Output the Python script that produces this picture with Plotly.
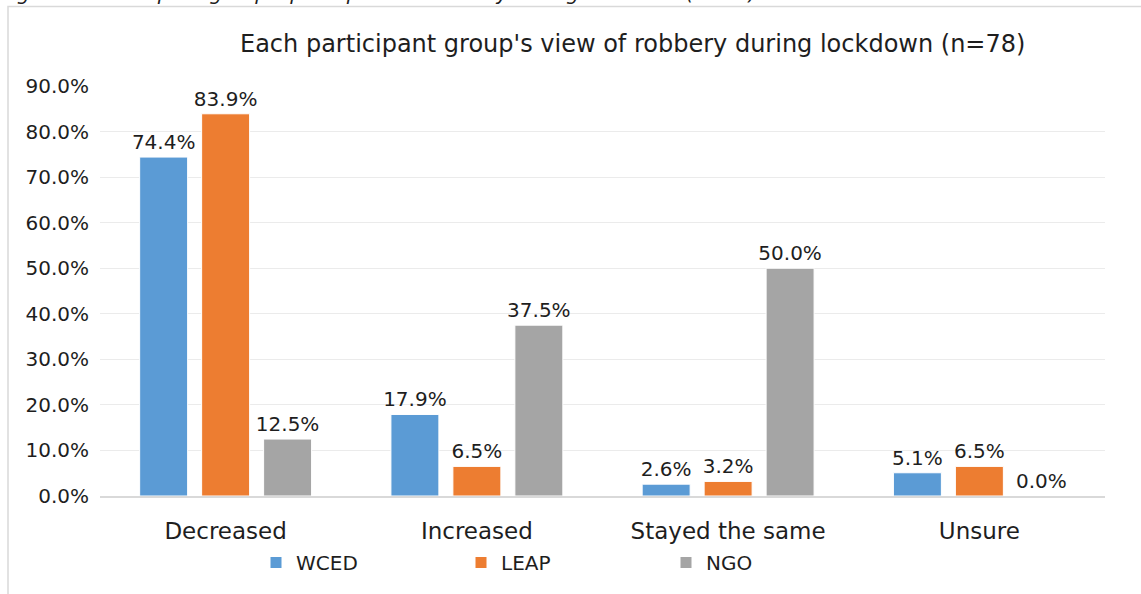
import plotly.graph_objects as go

categories = ["Decreased", "Increased", "Stayed the same", "Unsure"]
wced = [74.4, 17.9, 2.6, 5.1]
leap = [83.9, 6.5, 3.2, 6.5]
ngo = [12.5, 37.5, 50.0, 0.0]
series_names = ["WCED", "LEAP", "NGO"]
colors = ["#5B9BD5", "#ED7D31", "#A5A5A5"]
y_ticks = [0, 10, 20, 30, 40, 50, 60, 70, 80, 90]
title_text = "Each participant group's view of robbery during lockdown (n=78)"
caption_text = "Figure 9: Participant group's perception of robbery during lockdown (n=78)"

W, H = 1141, 594
L, R, T, B = 100, 36, 86, 95
pw, ph = W - L - R, H - T - B

def px_x(p):
    return (p - L) / pw

def px_y(p):
    return (H - B - p) / ph

FONT = "DejaVu Sans"
TXT = "#1E1E1E"

fig = go.Figure()
for name, vals, col in zip(series_names, [wced, leap, ngo], colors):
    fig.add_trace(go.Bar(
        x=categories, y=vals, name=name,
        marker=dict(color=col, line=dict(color="white", width=1)),
        text=[f"{v:.1f}%" for v in vals], textposition="outside",
        textfont=dict(family=FONT, size=20, color=TXT),
        constraintext="none",
        cliponaxis=False,
    ))

fig.update_layout(
    width=W, height=H,
    margin=dict(l=L, r=R, t=T, b=B),
    paper_bgcolor="white", plot_bgcolor="white",
    barmode="group", bargap=0.26, bargroupgap=0.226,
    font=dict(family=FONT, size=20, color=TXT),
    showlegend=True,
    uniformtext=dict(minsize=20, mode="show"),
    legend=dict(orientation="h", x=px_x(256), y=px_y(566), xanchor="left", yanchor="middle",
                entrywidth=160, entrywidthmode="pixels",
                font=dict(family=FONT, size=20, color=TXT), itemwidth=30,
                bgcolor="rgba(0,0,0,0)"),
    xaxis=dict(showgrid=False, showline=True, linecolor="#D9D9D9", linewidth=1.5,
               ticks="", ticklabelstandoff=14,
               tickfont=dict(family=FONT, size=23, color=TXT)),
    yaxis=dict(range=[0, 90], tickvals=y_ticks, ticktext=[f"{v:.1f}%" for v in y_ticks],
               showgrid=True, gridcolor="#EBEBEB", gridwidth=1, zeroline=False,
               showline=False, ticks="", ticklabelstandoff=10,
               tickfont=dict(family=FONT, size=20, color=TXT)),
)
fig.update_traces(textangle=0)

fig.add_annotation(text=title_text, xref="paper", yref="paper",
                   x=px_x(632), y=px_y(44), xanchor="center", yanchor="middle",
                   showarrow=False, font=dict(family=FONT, size=24, color=TXT))
fig.add_annotation(text=f"<i>{caption_text}</i>", xref="paper", yref="paper",
                   x=px_x(-2), y=px_y(6), xanchor="left", yanchor="bottom",
                   showarrow=False, font=dict(family=FONT, size=20, color=TXT))

fig.add_shape(type="rect", xref="paper", yref="paper",
              x0=px_x(8), x1=px_x(1160), y0=px_y(620), y1=px_y(6),
              line=dict(color="#D9D9D9", width=1.5), fillcolor="rgba(0,0,0,0)", layer="below")

fig.write_html("out.html", config={"displayModeBar": False},
               post_script="document.body.style.margin='0';")
